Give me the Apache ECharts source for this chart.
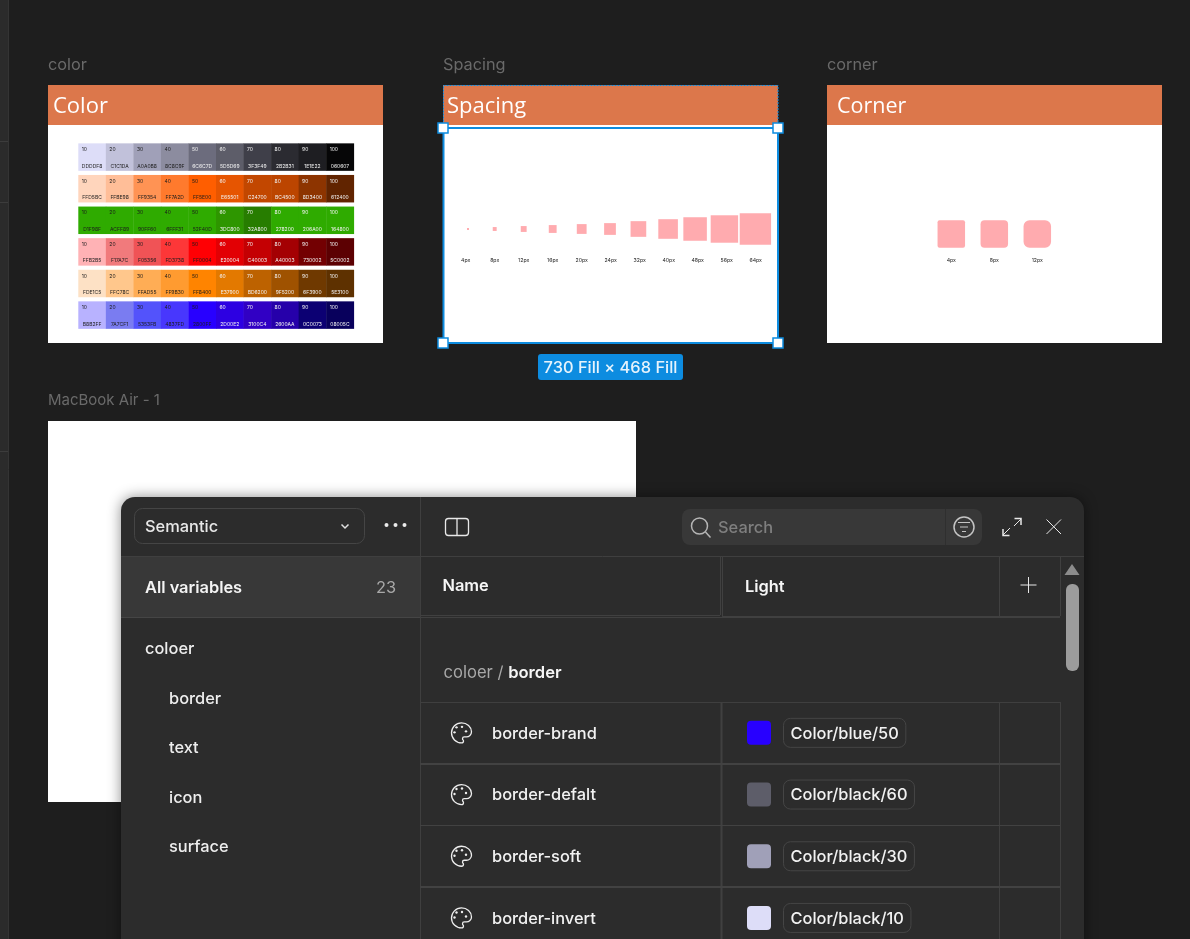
<!DOCTYPE html>
<html>
<head>
<meta charset="utf-8">
<title>Variables</title>
<script src="https://cdn.jsdelivr.net/npm/echarts@6/dist/echarts.min.js"></script>
<style>
  html, body { margin: 0; padding: 0; background: #1e1e1e; }
  #main { width: 1190px; height: 939px; }
</style>
</head>
<body>
<div id="main"></div>
<script>
// palette frame
const shades = ['10', '20', '30', '40', '50', '60', '70', '80', '90', '100']
const paletteNames = ['black', 'orange', 'green', 'red', 'amber', 'blue']
const blackHex = ['DDDDF8', 'C1C1DA', 'A0A0B8', '8C8C9F', '6C6C7D', '5D5D69', '3F3F49', '2B2B31', '1E1E22', '060607']
const orangeHex = ['FFD5BC', 'FFBE98', 'FF9354', 'FF7A2D', 'FF5E00', 'E65501', 'C24700', 'BC4500', '8D3400', '612400']
const greenHex = ['D1F98F', 'ACFF89', '90FF60', '6FFF31', '52F40D', '3DC800', '32A800', '278200', '206A00', '164800']
const redHex = ['FFB2B5', 'F17A7C', 'F05356', 'FD3738', 'FF0004', 'E20004', 'C40003', 'A40003', '730002', '5C0002']
const amberHex = ['FDE1C5', 'FFC78C', 'FFAD55', 'FF9B30', 'FF8400', 'E37900', 'BD6200', '9F5200', '6F3900', '5E3100']
const blueHex = ['B8B2FF', '7A7CF1', '5353FB', '4837FD', '2800FF', '2D00E2', '3100C4', '2600AA', '0C0073', '08005C']
const paletteHex = [blackHex, orangeHex, greenHex, redHex, amberHex, blueHex]
// the green row is painted differently from what its labels say
const greenFill = ['2FAB00', '2FAB00', '2FAB00', '2FAB00', '2FAB00', '2E9600', '277D00', '2FAB00', '2FAB00', '2FAB00']
const lightFrom = [4, 5, 5, 5, 5, 5]

// spacing + corner frames
const spacingValues = [4, 8, 12, 16, 20, 24, 32, 40, 48, 56, 64]
const cornerValues = [4, 8, 12]

// variables dialog
const groupNames = ['border', 'text', 'icon', 'surface']
const varNames = ['border-brand', 'border-defalt', 'border-soft', 'border-invert']
const varRefs = ['Color/blue/50', 'Color/black/60', 'Color/black/30', 'Color/black/10']

const UI = 'Inter, "Noto Sans", sans-serif'
const HEAD = '"Open Sans", "Noto Sans", sans-serif'
const BLUE = '#0d8ce0'
const PINK = '#ffabaf'
const PALETTE_ICON = 'M12 22a10 10 0 1 1 0-20c5.5 0 10 4 10 9 0 3-2.5 5-5 5h-2.2c-1 0-1.8.8-1.8 1.8 0 .5.2.9.5 1.2.3.3.5.7.5 1.1 0 1.1-.9 1.9-2 1.9z'
// the squares sit in a flex row, so they drift a little off their label
const squareNudge = [2.3, 0, 0, 0, 0, -0.7, -1.3, -0.6, -2.6, -2.3, -0.3]

const measure = document.createElement('canvas').getContext('2d')
const refColor = (ref) => {
    let parts = ref.split('/')
    let row = paletteNames.indexOf(parts[1])
    return '#' + paletteHex[row][shades.indexOf(parts[2])]
}

/**helpers for the non-data chrome */
const box = (x, y, w, h, fill, z, extra = {}) => ({
    type: 'rect', z: z, silent: true,
    shape: { x: x, y: y, width: w, height: h, r: extra.r || 0 },
    style: { fill: fill, stroke: extra.stroke || null, lineWidth: extra.lineWidth || 1, lineDash: extra.lineDash || null, shadowBlur: extra.shadowBlur || 0, shadowColor: extra.shadowColor || 'transparent' }
})
const seg = (x1, y1, x2, y2, stroke, z, lineWidth = 1) => ({
    type: 'line', z: z, silent: true,
    shape: { x1: x1, y1: y1, x2: x2, y2: y2 },
    style: { stroke: stroke, lineWidth: lineWidth }
})
const poly = (points, stroke, z, lineWidth = 1.5) => ({
    type: 'polyline', z: z, silent: true,
    shape: { points: points },
    style: { stroke: stroke, lineWidth: lineWidth, fill: null }
})
const ring = (cx, cy, r, stroke, z, fill = null, lineWidth = 1.5) => ({
    type: 'circle', z: z, silent: true,
    shape: { cx: cx, cy: cy, r: r },
    style: { stroke: stroke, fill: fill, lineWidth: lineWidth }
})
const label = (str, x, y, fill, font, z, align = 'left') => ({
    type: 'text', z: z, silent: true,
    style: { text: str, x: x, y: y, fill: fill, font: font, textAlign: align, textVerticalAlign: 'middle', align: align, verticalAlign: 'middle' }
})

const frameChrome = () => {
    let els = []
    // left toolbar strip
    els.push(box(0, 0, 8, 939, '#2b2b2b', 1))
    els.push(seg(8.5, 0, 8.5, 939, '#343434', 1))
    ;[141.5, 202.5, 451.5].forEach(y => els.push(seg(0, y, 8, y, '#3c3c3c', 1)))

    // three frames
    let frames = [[48, 'color', 'Color'], [443, 'Spacing', 'Spacing'], [827, 'corner', 'Corner']]
    frames.forEach(f => {
        els.push(label(f[1], f[0], 65, '#6a6a6a', '16.3px ' + UI, 1))
        els.push(box(f[0], 125, 335, 218, '#ffffff', 1))
        els.push(box(f[0], 85, 335, 40, '#dc774b', 1))
    })
    els.push(label('Color', 53, 107, '#ffffff', '22px ' + HEAD, 2))
    els.push(label('Spacing', 447, 107, '#ffffff', '22px ' + HEAD, 2))
    els.push(label('Corner', 837, 107, '#ffffff', '21.5px ' + HEAD, 2))

    // selection on the spacing frame
    els.push(box(443.5, 85.5, 334.5, 258, null, 3, { stroke: BLUE, lineWidth: 1, lineDash: [2, 1] }))
    els.push(box(443.5, 128, 334.5, 215, null, 3, { stroke: BLUE, lineWidth: 2 }))
    ;[[443, 128], [778, 128], [443, 343], [778, 343]].forEach(p => {
        els.push(box(p[0] - 5, p[1] - 5, 10, 10, '#ffffff', 4, { stroke: BLUE, lineWidth: 1.5 }))
    })
    els.push(box(538, 354, 145, 26, BLUE, 3, { r: 3 }))
    els.push(label('730 Fill × 468 Fill', 610.5, 368, '#e6f3fc', '500 16.4px ' + UI, 4, 'center'))

    // empty macbook frame under the dialog
    els.push(label('MacBook Air - 1', 48, 400, '#6a6a6a', '15px ' + UI, 1))
    els.push(box(48, 421, 588, 381, '#ffffff', 1))
    return els
}

const dialogChrome = () => {
    let els = []
    const Z = 5
    const F = '16.4px ' + UI
    els.push(box(121, 497, 963, 470, '#2c2c2c', Z, { r: 14, shadowBlur: 14, shadowColor: 'rgba(0,0,0,0.45)' }))
    els.push(box(121, 557, 299, 60, '#383838', Z))
    els.push(seg(121, 556.5, 1084, 556.5, '#3f3f3f', Z))
    els.push(seg(121, 617.5, 420, 617.5, '#454545', Z))
    els.push(seg(420.5, 497, 420.5, 939, '#3f3f3f', Z))

    // sidebar top
    els.push(box(134.5, 508.5, 230, 35, null, Z, { r: 8, stroke: '#454545' }))
    els.push(label('Semantic', 145, 527, '#e8e8e8', '500 ' + F, Z))
    els.push(poly([[341.5, 524.5], [345, 528], [348.5, 524.5]], '#e0e0e0', Z))
    ;[386.5, 395.5, 404.5].forEach(x => els.push(ring(x, 525, 2, '#ececec', Z, '#ececec', 0)))
    els.push(label('All variables', 145, 588, '#f4f4f4', '600 ' + F, Z))
    els.push(label('23', 396, 588, '#a8a8a8', F, Z, 'right'))
    els.push(label('coloer', 145, 649, '#eeeeee', '500 ' + F, Z))
    groupNames.forEach((name, i) => {
        els.push(label(name, 169, 699 + i * 49.4, '#eeeeee', '500 ' + F, Z))
    })

    // top bar icons
    els.push(box(445.5, 518.5, 23, 17, null, Z, { r: 3, stroke: '#e8e8e8', lineWidth: 1.3 }))
    els.push(seg(457, 518.5, 457, 535.5, '#e8e8e8', Z, 1.3))
    els.push(box(682, 509, 300, 36, '#383838', Z, { r: 8 }))
    els.push(seg(945.5, 509, 945.5, 545, '#2f2f2f', Z))
    els.push(ring(699.5, 526, 8, '#b5b5b5', Z))
    els.push(seg(705.5, 532, 710.5, 537.5, '#b5b5b5', Z, 1.5))
    els.push(label('Search', 718, 528, '#7f7f7f', '500 ' + F, Z))
    els.push(ring(964, 527, 10, '#c4c4c4', Z))
    els.push(seg(958, 522.5, 970, 522.5, '#c4c4c4', Z))
    els.push(seg(960, 527, 968, 527, '#c4c4c4', Z))
    els.push(seg(962, 531.5, 966, 531.5, '#c4c4c4', Z))
    // expand
    els.push(seg(1003, 535, 1010, 528, '#e8e8e8', Z))
    els.push(poly([[1003, 529], [1003, 535.5], [1009.5, 535.5]], '#e8e8e8', Z))
    els.push(seg(1021, 519, 1014, 526, '#e8e8e8', Z))
    els.push(poly([[1014.5, 518.5], [1021, 518.5], [1021, 525]], '#e8e8e8', Z))
    // close
    els.push(seg(1046.5, 519.5, 1061, 534, '#e8e8e8', Z))
    els.push(seg(1061, 519.5, 1046.5, 534, '#e8e8e8', Z))

    // table head
    els.push(label('Name', 442.5, 586, '#f6f6f6', '600 ' + F, Z))
    els.push(label('Light', 745, 587, '#f6f6f6', '600 ' + F, Z))
    els.push(seg(1020.5, 585, 1036.5, 585, '#e8e8e8', Z))
    els.push(seg(1028.5, 577, 1028.5, 593, '#e8e8e8', Z))
    els.push(seg(420, 615.5, 720, 615.5, '#404040', Z))
    els.push(seg(420, 617.5, 1060, 617.5, '#404040', Z))
    els.push(seg(722, 616.5, 1060, 616.5, '#404040', Z))
    els.push(seg(720.5, 557, 720.5, 615, '#404040', Z))
    els.push(seg(722.5, 557, 722.5, 616, '#404040', Z))
    els.push(seg(999.5, 557, 999.5, 616, '#404040', Z))
    els.push(seg(1060.5, 557, 1060.5, 616, '#404040', Z))

    // group heading
    els.push({
        type: 'text', z: Z, silent: true,
        style: {
            text: '{a|coloer / }{b|border}', x: 443.5, y: 673, textVerticalAlign: 'middle', verticalAlign: 'middle',
            rich: {
                a: { fill: '#a8a8a8', color: '#a8a8a8', font: '16.6px ' + UI },
                b: { fill: '#f6f6f6', color: '#f6f6f6', font: '600 16.6px ' + UI }
            }
        }
    })

    // scrollbar
    els.push({ type: 'polygon', z: Z, silent: true, shape: { points: [[1072, 564], [1079.5, 575], [1064.5, 575]] }, style: { fill: '#8c8c8c' } })
    els.push(box(1066, 584, 13, 87, '#9c9c9c', Z, { r: 6 }))

    // table grid lines
    els.push(seg(420, 702.5, 1060, 702.5, '#3f3f3f', Z))
    els.push(seg(721.5, 702, 721.5, 939, '#404040', Z, 2))
    els.push(seg(999.5, 702, 999.5, 939, '#3f3f3f', Z))
    els.push(seg(1060.5, 702, 1060.5, 939, '#3f3f3f', Z))
    ;[[764, 2], [825.5, 1], [887, 2]].forEach(l => els.push(seg(420, l[0], 1060, l[0], '#424242', Z, l[1])))
    return els
}

const renderCell = (params, api) => {
    let col = api.value(0)
    let row = api.value(1)
    let c = api.coord([col, row])
    let band = api.size([1, 1])
    let h = band[1] - 4.1
    let left = c[0] - band[0] / 2
    let top = c[1] - h / 2
    let hex = paletteHex[row][col]
    let fill = row === 2 ? greenFill[col] : hex
    let ink = col >= lightFrom[row] ? '#f2f2f2' : '#1c1c1c'
    return {
        type: 'group',
        children: [
            { type: 'rect', shape: { x: left, y: top, width: band[0] + 0.4, height: h }, style: { fill: '#' + fill } },
            { type: 'text', style: { text: shades[col], x: left + 3.5, y: top + 6.4, fill: ink, font: '5px ' + UI, textAlign: 'left', textVerticalAlign: 'middle', align: 'left', verticalAlign: 'middle' } },
            { type: 'text', style: { text: hex, x: c[0], y: top + 22.8, fill: ink, font: '5px ' + UI, textAlign: 'center', textVerticalAlign: 'middle', align: 'center', verticalAlign: 'middle' } }
        ]
    }
}

const renderCorner = (params, api) => {
    let c = api.coord([api.value(0), 0])
    let size = 27.5
    return {
        type: 'rect',
        shape: { x: c[0] - size / 2, y: c[1] - size / 2, width: size, height: size, r: api.value(1) * 0.5 },
        style: { fill: PINK }
    }
}

const renderVariable = (params, api) => {
    let row = params.dataIndex
    let c = api.coord([0, api.value(1)])
    let x0 = params.coordSys.x
    measure.font = '500 16.4px Inter'
    let ref = varRefs[row]
    let pillW = measure.measureText(ref).width + 14
    return {
        type: 'group',
        children: [
            { type: 'path', shape: { pathData: PALETTE_ICON, layout: 'center', x: x0 + 31.5, y: c[1] - 11, width: 20, height: 22 }, style: { fill: 'none', stroke: '#eeeeee', lineWidth: 1.3 } },
            { type: 'circle', shape: { cx: x0 + 36.5, cy: c[1] - 5.5, r: 1.2 }, style: { fill: '#eeeeee' } },
            { type: 'circle', shape: { cx: x0 + 42, cy: c[1] - 6, r: 1.2 }, style: { fill: '#eeeeee' } },
            { type: 'circle', shape: { cx: x0 + 46, cy: c[1] - 1.5, r: 1.2 }, style: { fill: '#eeeeee' } },
            { type: 'circle', shape: { cx: x0 + 34.5, cy: c[1] - 0.5, r: 1.2 }, style: { fill: '#eeeeee' } },
            { type: 'text', style: { text: varNames[row], x: x0 + 72, y: c[1] + 1, fill: '#f2f2f2', font: '500 16.4px ' + UI, textAlign: 'left', textVerticalAlign: 'middle', align: 'left', verticalAlign: 'middle' } },
            { type: 'rect', shape: { x: x0 + 327, y: c[1] - 12, width: 24, height: 24, r: 4 }, style: { fill: refColor(ref) } },
            { type: 'rect', shape: { x: x0 + 363.5, y: c[1] - 14.5, width: pillW, height: 29, r: 7 }, style: { fill: 'none', stroke: '#454545', lineWidth: 1 } },
            { type: 'text', style: { text: ref, x: x0 + 370.5, y: c[1] + 1, fill: '#f2f2f2', font: '500 16.4px ' + UI, textAlign: 'left', textVerticalAlign: 'middle', align: 'left', verticalAlign: 'middle' } }
        ]
    }
}

const hiddenAxis = (extra) => Object.assign({ show: false, boundaryGap: true }, extra)
const tickAxis = (labels, gridIndex) => ({
    type: 'category', gridIndex: gridIndex, data: labels, z: 3,
    axisLine: { show: false }, axisTick: { show: false }, splitLine: { show: false },
    axisLabel: { color: '#222222', fontSize: 5.2, fontFamily: UI, margin: 2.5, interval: 0, verticalAlign: 'top' }
})

const cellData = []
paletteHex.forEach((row, r) => row.forEach((hex, c) => cellData.push([c, r])))

let chart = echarts.init(document.getElementById('main'), null, { renderer: 'canvas' })
chart.setOption({
    backgroundColor: '#1e1e1e',
    animation: false,
    tooltip: { show: false },
    graphic: { elements: frameChrome().concat(dialogChrome()) },
    grid: [
        { left: 78.3, top: 141.3, width: 275.4, height: 189.6 },
        { left: 451.2, top: 203, width: 319, height: 52 },
        { left: 929.8, top: 213, width: 129, height: 42 },
        { left: 420, top: 702, width: 640, height: 237 }
    ],
    xAxis: [
        hiddenAxis({ type: 'category', gridIndex: 0, data: shades }),
        tickAxis(spacingValues.map(v => v + 'px'), 1),
        tickAxis(cornerValues.map(v => v + 'px'), 2),
        { type: 'value', gridIndex: 3, show: false, min: 0, max: 1 }
    ],
    yAxis: [
        hiddenAxis({ type: 'category', gridIndex: 0, data: paletteNames, inverse: true }),
        { type: 'value', gridIndex: 1, show: false, min: -1, max: 1 },
        hiddenAxis({ type: 'category', gridIndex: 2, data: ['corner'] }),
        // last row runs past the window, so the axis stops part way through it
        { type: 'value', gridIndex: 3, show: false, inverse: true, min: 0, max: 237 / 61.7 }
    ],
    series: [
        {
            type: 'custom', xAxisIndex: 0, yAxisIndex: 0, z: 3, silent: true,
            encode: { x: 0, y: 1 }, renderItem: renderCell, data: cellData
        },
        {
            type: 'scatter', xAxisIndex: 1, yAxisIndex: 1, z: 3, silent: true,
            symbol: 'rect',
            symbolSize: (v) => v[2] * 0.49,
            itemStyle: { color: PINK, opacity: 1 },
            data: spacingValues.map((v, i) => ({ value: [i, 0, v], symbolOffset: [squareNudge[i], 0] }))
        },
        {
            type: 'custom', xAxisIndex: 2, yAxisIndex: 2, z: 3, silent: true,
            encode: { x: 0 }, renderItem: renderCorner,
            data: cornerValues.map((v, i) => [i, v])
        },
        {
            type: 'custom', xAxisIndex: 3, yAxisIndex: 3, z: 8, silent: true, clip: false,
            encode: { x: 0, y: 1 }, renderItem: renderVariable,
            data: varNames.map((n, i) => [0, i + 0.5])
        }
    ]
})
</script>
</body>
</html>
